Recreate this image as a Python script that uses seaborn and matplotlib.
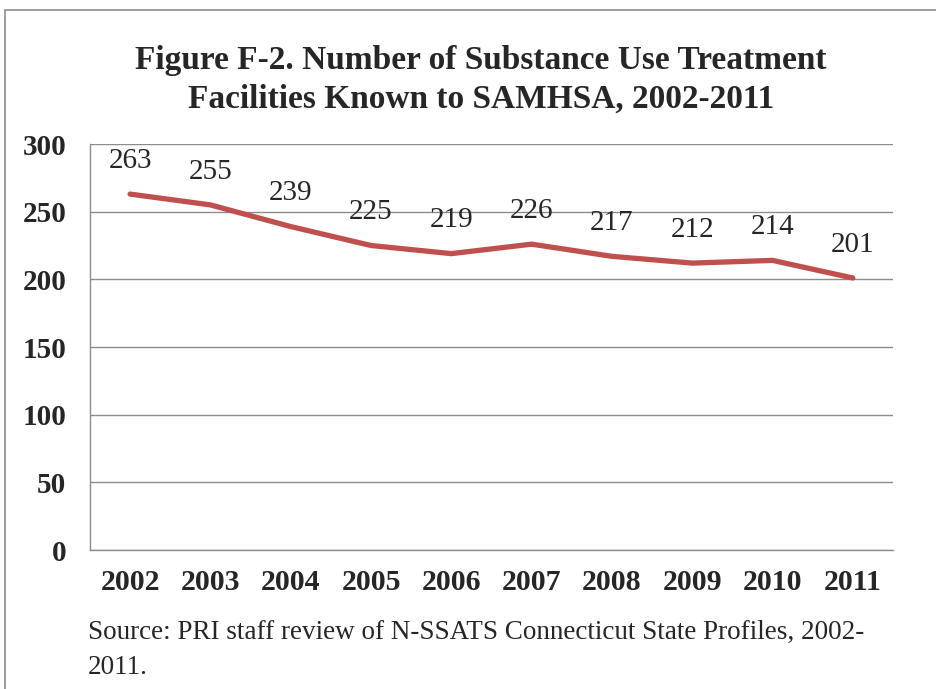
import matplotlib
matplotlib.use("Agg")
import matplotlib.pyplot as plt
import matplotlib.patches as mpatches
import pandas as pd
import seaborn as sns

# Données
years = ["2002", "2003", "2004", "2005", "2006", "2007", "2008", "2009", "2010", "2011"]
facilities = [263, 255, 239, 225, 219, 226, 217, 212, 214, 201]
y_ticks = [0, 50, 100, 150, 200, 250, 300]

df = pd.DataFrame({"Year": years, "Facilities": facilities})

sns.set_style("white")
plt.rcParams["font.family"] = ["Liberation Serif", "DejaVu Serif"]

fig = plt.figure(figsize=(9.37, 6.89), dpi=100)
ax = fig.add_axes([0.096, 0.2017, 0.857, 0.5893])

# cadre gris autour du graphique
frame = mpatches.Rectangle((5 / 937, -0.1), 1.2, 1 - 10 / 689 + 0.1, transform=fig.transFigure,
                           fill=False, edgecolor="#8c8c8c", linewidth=1.2)
fig.patches.append(frame)

sns.lineplot(data=df, x="Year", y="Facilities", ax=ax, color="#C0504D", linewidth=3.8,
             solid_capstyle="round")

# étiquettes de valeurs au-dessus de la courbe
for i, v in enumerate(facilities):
    ax.annotate(str(v), (i, v), xytext=(0, 24), textcoords="offset points",
                ha="center", va="center", fontsize=21)

ax.set_ylim(0, 300)
ax.set_xlim(-0.5, len(years) - 0.5)
ax.set_yticks(y_ticks)
ax.set_yticklabels([str(t) for t in y_ticks], fontsize=21, fontweight="bold")
ax.set_xticks(range(len(years)))
ax.set_xticklabels(years, fontsize=21.5, fontweight="bold")
ax.set_xlabel("")
ax.set_ylabel("")

# graduations entre les catégories
ax.set_xticks([i - 0.5 for i in range(len(years) + 1)], minor=True)
ax.tick_params(axis="x", which="major", length=0, pad=14)
ax.tick_params(axis="x", which="minor", length=7, color="#8c8c8c", direction="out")
ax.tick_params(axis="y", length=7, color="#8c8c8c", direction="out", pad=10)

ax.grid(axis="y", color="#8c8c8c", linewidth=1)
ax.set_axisbelow(True)
for s in ["top", "right"]:
    ax.spines[s].set_visible(False)
for s in ["left", "bottom"]:
    ax.spines[s].set_color("#8c8c8c")
    ax.spines[s].set_linewidth(1)

fig.text(0.513, 1 - 80 / 689, "Figure F-2. Number of Substance Use Treatment\nFacilities Known to SAMHSA, 2002-2011",
         ha="center", va="center", fontsize=24, fontweight="bold", linespacing=1.35)

fig.text(88 / 937, 1 - 620 / 689, "Source: PRI staff review of N-SSATS Connecticut State Profiles, 2002-\n2011.",
         ha="left", va="top", fontsize=19.5, linespacing=1.5)

fig.savefig("out.png", dpi=100)
